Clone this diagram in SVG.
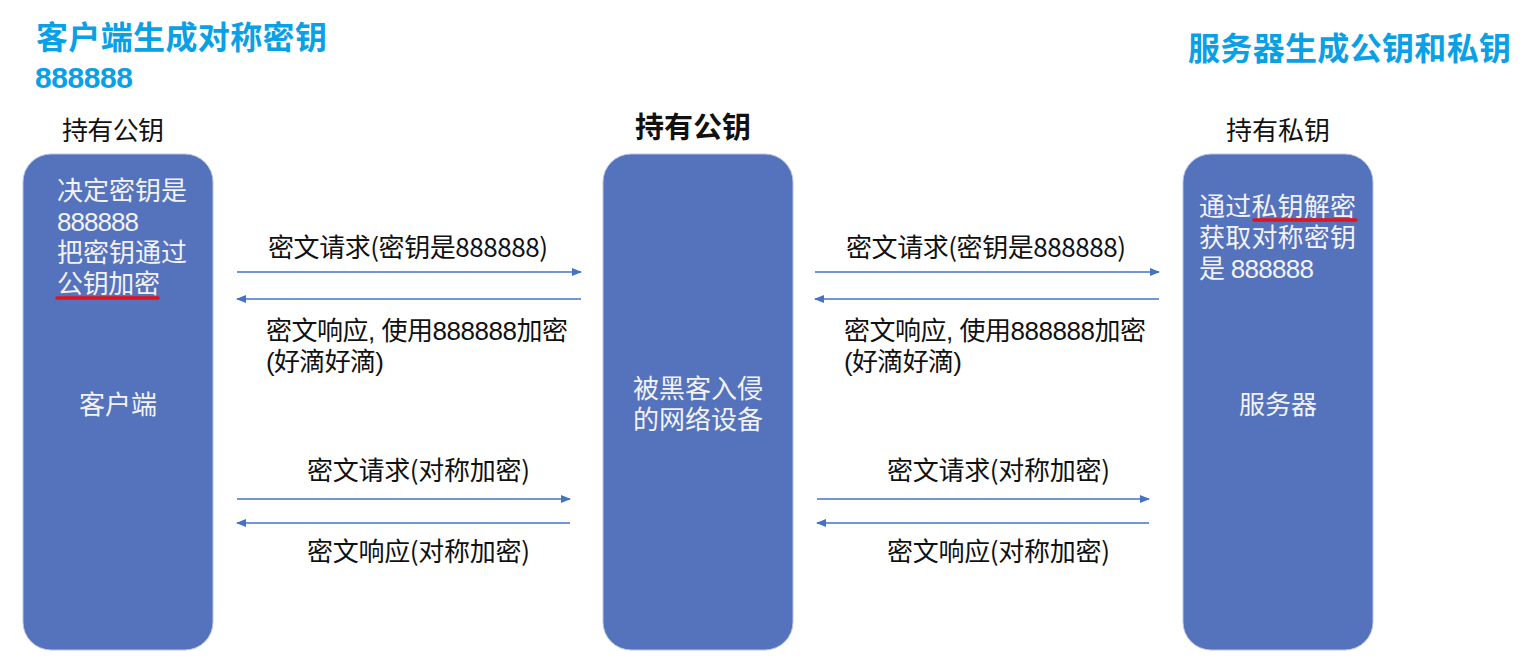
<svg xmlns="http://www.w3.org/2000/svg" width="1527" height="667" viewBox="0 0 1527 667">
<style>
.box{fill:#5573BD;stroke:#B8C4E0;stroke-width:1}
.title{font-family:"Liberation Sans","Noto Sans CJK SC",sans-serif;font-weight:bold;fill:#0AA0E6}
.lbl{font-family:"Noto Sans CJK SC","Liberation Sans",sans-serif;fill:#111;font-size:26px}
.in{font-family:"Noto Sans CJK SC","Liberation Sans",sans-serif;fill:#F2F2F2;font-size:26px}
.tight{font-family:"Liberation Sans","Noto Sans CJK SC",sans-serif}
.ar{stroke:#4472C4;stroke-width:1.3;fill:none;marker-end:url(#ah)}
.ul{stroke:#E0141E;stroke-width:3.5;stroke-linecap:round}
</style>
<defs>
<marker id="ah" markerWidth="10" markerHeight="8" refX="9" refY="4" orient="auto" markerUnits="userSpaceOnUse">
<path d="M0,0 L10,4 L0,8 Z" fill="#4472C4"/>
</marker>
</defs>
<rect width="1527" height="667" fill="#fff"/>
<text class="title" x="36" y="49" font-size="32" textLength="291">客户端生成对称密钥</text>
<text class="title" x="35" y="88" font-size="30" textLength="98">888888</text>
<text class="title" x="1188" y="60" font-size="32" textLength="323">服务器生成公钥和私钥</text>

<g id="client">
<text class="lbl" x="62" y="140" textLength="102">持有公钥</text>
<rect class="box" x="23" y="154" width="190" height="496" rx="28"/>
<text class="in tight" x="57" y="200" textLength="130">决定密钥是</text>
<text class="in tight" x="57" y="231" textLength="82">888888</text>
<text class="in tight" x="57" y="262" textLength="130">把密钥通过</text>
<text class="in tight" x="57" y="293" textLength="103">公钥加密</text>
<line class="ul" x1="57" y1="298" x2="158" y2="298"/>
<text class="in" x="118" y="414" text-anchor="middle">客户端</text>
</g>

<g id="middle">
<text class="lbl" x="693" y="138" text-anchor="middle" style="font-size:29px;font-weight:bold">持有公钥</text>
<rect class="box" x="603" y="154" width="190" height="496" rx="28"/>
<text class="in tight" x="698" y="398" text-anchor="middle">被黑客入侵</text>
<text class="in tight" x="698" y="429" text-anchor="middle">的网络设备</text>
</g>

<g id="server">
<text class="lbl" x="1278" y="140" text-anchor="middle">持有私钥</text>
<rect class="box" x="1183" y="154" width="190" height="496" rx="28"/>
<text class="in tight" x="1199" y="216" textLength="157">通过私钥解密</text>
<line class="ul" x1="1254" y1="220" x2="1356" y2="220"/>
<text class="in tight" x="1199" y="247" textLength="157">获取对称密钥</text>
<text class="in tight" x="1199" y="278" textLength="115">是 888888</text>
<text class="in" x="1278" y="414" text-anchor="middle">服务器</text>
</g>

<g id="connectors">
<line class="ar" x1="237" y1="272" x2="581" y2="272"/>
<line class="ar" x1="581" y1="299" x2="237" y2="299"/>
<line class="ar" x1="237" y1="499" x2="570" y2="499"/>
<line class="ar" x1="570" y1="523" x2="237" y2="523"/>
<line class="ar" x1="815" y1="272" x2="1159" y2="272"/>
<line class="ar" x1="1159" y1="299" x2="815" y2="299"/>
<line class="ar" x1="817" y1="499" x2="1149" y2="499"/>
<line class="ar" x1="1149" y1="523" x2="817" y2="523"/>
</g>

<g id="labels">
<text class="lbl" x="268" y="257" textLength="280">密文请求(密钥是888888)</text>
<text class="lbl tight" x="266" y="340" textLength="302">密文响应, 使用888888加密</text>
<text class="lbl tight" x="266" y="371" textLength="118">(好滴好滴)</text>
<text class="lbl" x="307" y="480" textLength="223">密文请求(对称加密)</text>
<text class="lbl" x="307" y="561" textLength="223">密文响应(对称加密)</text>
<text class="lbl" x="846" y="257" textLength="280">密文请求(密钥是888888)</text>
<text class="lbl tight" x="844" y="340" textLength="302">密文响应, 使用888888加密</text>
<text class="lbl tight" x="844" y="371" textLength="118">(好滴好滴)</text>
<text class="lbl" x="887" y="480" textLength="223">密文请求(对称加密)</text>
<text class="lbl" x="887" y="561" textLength="223">密文响应(对称加密)</text>
</g>
</svg>
